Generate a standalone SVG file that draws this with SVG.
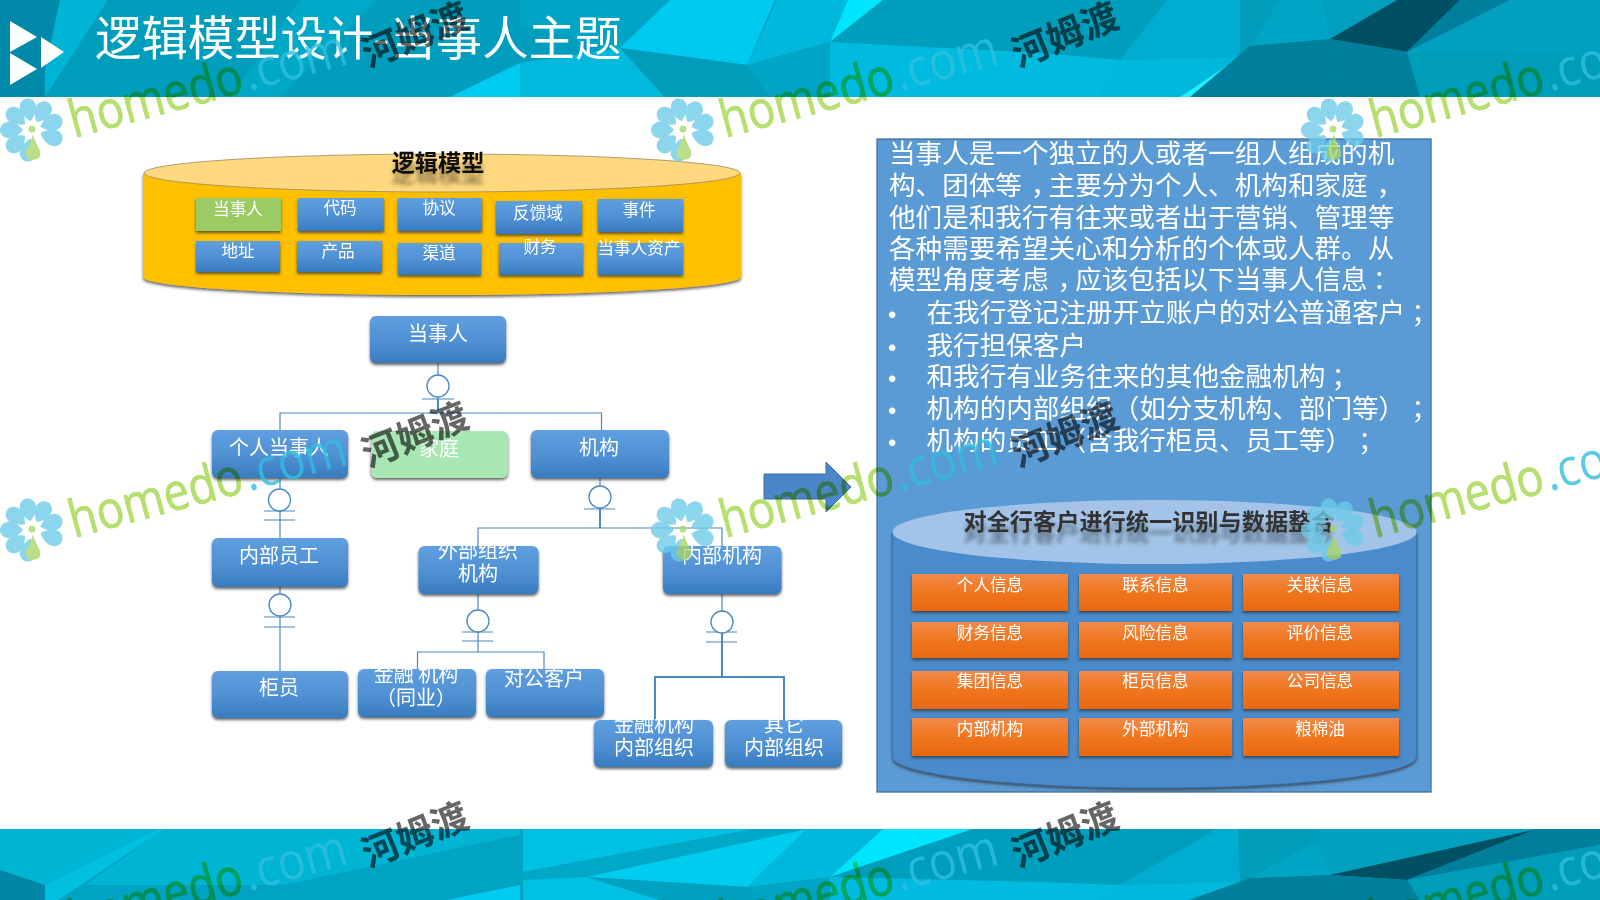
<svg xmlns="http://www.w3.org/2000/svg" xmlns:xlink="http://www.w3.org/1999/xlink" width="1600" height="900" viewBox="0 0 1600 900">
<style>
text{font-family:"Noto Sans CJK SC","Noto Sans",sans-serif;text-spacing-trim:space-all}
.b{fill:url(#gb);filter:url(#sh)}
.o{fill:url(#go);filter:url(#sh)}
.t{fill:#fff;text-anchor:middle}
.s{font-size:16.6px}
.m{font-size:20px}
.p{fill:#fff;font-size:26.6px}
.u{fill:#fff;font-size:24px;font-family:"Liberation Sans",sans-serif}
.l{fill:none;stroke:#4a88c0;stroke-width:1.2}
.k{stroke-width:2}
.er{fill:#fff;stroke:#4a88c0;stroke-width:1.3}
.h{fill:#b5df6e;stroke:#b5df6e;stroke-width:.8;font-family:"Open Sans",sans-serif;font-size:52px;font-weight:400;mix-blend-mode:multiply}
.d{fill:#30bede;fill-opacity:.8;font-family:"Open Sans",sans-serif;font-size:52px;font-weight:400}
.w{fill:#666;font-size:37px;font-weight:700;text-anchor:middle;mix-blend-mode:multiply}
.ct{font-size:23.2px;font-weight:700;text-anchor:middle;filter:url(#rf)}
</style>
<defs>
<linearGradient id="gb" x1="0" y1="0" x2="0" y2="1"><stop offset="0" stop-color="#5f9fe0"/><stop offset=".55" stop-color="#4f90d3"/><stop offset="1" stop-color="#387bbf"/></linearGradient>
<linearGradient id="go" x1="0" y1="0" x2="0" y2="1"><stop offset="0" stop-color="#f28a4a"/><stop offset=".5" stop-color="#f0761f"/><stop offset="1" stop-color="#e8680f"/></linearGradient>
<filter id="sh" x="-10%" y="-15%" width="120%" height="135%"><feDropShadow dx="0" dy="2" stdDeviation="1.4" flood-color="#333" flood-opacity=".75"/></filter>
<filter id="rf" x="-5%" y="-10%" width="110%" height="170%"><feOffset in="SourceAlpha" dy="11" result="o"/><feGaussianBlur in="o" stdDeviation="2"/><feComponentTransfer result="r"><feFuncA type="linear" slope=".4"/></feComponentTransfer><feMerge><feMergeNode in="r"/><feMergeNode in="SourceGraphic"/></feMerge></filter>
<path id="pt" d="M0-9C-6-14-9-20-8-25C-7-30-3-32 0-32C3-32 7-30 8-25C9-20 6-14 0-9Z" fill="#6ccbe9"/>
<g id="fl" opacity=".78">
<use xlink:href="#pt" href="#pt" transform="rotate(-170)"/><use xlink:href="#pt" href="#pt" transform="rotate(-130)"/><use xlink:href="#pt" href="#pt" transform="rotate(-90)"/><use xlink:href="#pt" href="#pt" transform="rotate(-50)"/><use xlink:href="#pt" href="#pt" transform="rotate(-10)"/><use xlink:href="#pt" href="#pt" transform="rotate(30)"/><use xlink:href="#pt" href="#pt" transform="rotate(70)"/><use xlink:href="#pt" href="#pt" transform="rotate(110)"/>
<path d="M0 4C2 14 9 20 7 26C5 31 -5 31 -7 26C-9 20-2 14 0 4Z" fill="#a8d568" transform="translate(1,0)"/><circle r="3.5" cy="-1" fill="#a8d568"/>
</g>
</defs>
<rect width="1600" height="900" fill="#fff"/>
<g id="top-band">
<rect width="1600" height="97" fill="#009dbc"/>
<path d="M0 0H108L45 97H0Z" fill="#0089a8"/>
<path d="M60 0H108L45 97V70Z" fill="#00b4d6"/>
<path d="M300 0H377L280 97H230Z" fill="#00a8c8"/>
<path d="M450 97L520 63V97Z" fill="#00cbf0"/>
<path d="M520 0H670L620 50L520 25Z" fill="#00a5c6"/>
<path d="M670 0H775L747 65L620 48Z" fill="#00c9f0"/>
<path d="M520 63L620 48L665 97H520Z" fill="#00b9dc"/>
<path d="M620 48L747 65L770 97H665Z" fill="#009cba"/>
<path d="M777 0H848L830 42L747 65Z" fill="#00b8dc"/>
<path d="M848 0H883L830 42Z" fill="#00e5ff"/>
<path d="M830 42L747 65L770 97H830Z" fill="#00a5c5"/>
<path d="M883 0H1167L1120 60L1040 53L830 42Z" fill="#009ebd"/>
<path d="M830 42L1040 53L1120 60L1100 97H830Z" fill="#00bbdf"/>
<path d="M1167 0H1240V57L1120 60Z" fill="#00add0"/>
<path d="M1120 60L1240 57L1187 97H1100Z" fill="#00b8dc"/>
<path d="M1240 57L1252 50L1190 97H1180Z" fill="#20f0ff"/>
<path d="M1240 0H1280L1250 46L1240 57Z" fill="#009dbb"/>
<path d="M1280 0H1322L1330 39L1250 46Z" fill="#00a5c6"/>
<path d="M1322 0H1397L1330 39Z" fill="#009fbd"/>
<path d="M1397 0H1460L1407 52L1330 39Z" fill="#004f62"/>
<path d="M1460 0H1510L1407 52Z" fill="#007f9c"/>
<path d="M1510 0H1600V55L1407 52Z" fill="#00a0be"/>
<path d="M1407 52L1600 55V97H1420Z" fill="#009dbb"/>
<path d="M1250 46L1330 39L1340 97H1190Z" fill="#007f9c"/>
<path d="M1330 39L1407 52L1420 97H1340Z" fill="#00809a"/>
</g>
<g id="bottom-band">
<rect y="829" width="1600" height="71" fill="#00a3c2"/>
<path d="M0 829H157L45 885L0 870Z" fill="#00b5d3"/>
<path d="M0 870L45 885V900H0Z" fill="#0087a5"/>
<path d="M157 829H165L58 900H45V885Z" fill="#00c0e0"/>
<path d="M165 829H520V835L283 885H85Z" fill="#00b4d3"/>
<path d="M447 900L520 885V900Z" fill="#00cbf0"/>
<path d="M523 829H753L523 872Z" fill="#00c0e4"/>
<path d="M753 829H807L587 877L523 880V872Z" fill="#00a8c8"/>
<path d="M807 829L747 887L587 877Z" fill="#00ccf0"/>
<path d="M523 880L587 877L660 900H523Z" fill="#00c0e4"/>
<path d="M587 877L747 887L770 900H660Z" fill="#00a0c0"/>
<path d="M807 829H883L830 877L747 887Z" fill="#00b8dc"/>
<path d="M883 829H973L830 877Z" fill="#00e5ff"/>
<path d="M973 829H1217L1120 885L1040 882L830 877Z" fill="#009ebd"/>
<path d="M747 887L830 877V900H770Z" fill="#00a5c5"/>
<path d="M830 877L1040 882L1120 885L1100 900H830Z" fill="#00bbdf"/>
<path d="M1217 829H1238L1240 882L1120 885Z" fill="#00add0"/>
<path d="M1120 885L1240 882L1187 900H1100Z" fill="#00b8dc"/>
<path d="M1238 829H1322L1317 841L1250 878L1240 882Z" fill="#009dbb"/>
<path d="M1317 841L1330 875L1250 878Z" fill="#00a5c6"/>
<path d="M1322 829H1537L1330 875L1317 841Z" fill="#00a0be"/>
<path d="M1537 829L1407 880L1330 875Z" fill="#004f62"/>
<path d="M1537 829H1600V845L1407 880Z" fill="#007f9c"/>
<path d="M1407 880L1600 845V900H1420Z" fill="#009dbb"/>
<path d="M1250 878L1330 875L1340 900H1190Z" fill="#007f9c"/>
<path d="M1330 875L1407 880L1420 900H1340Z" fill="#00809a"/>
</g>
<g id="title-icon" fill="#fff"><path d="M10 21L37 37L10 52Z"/><path d="M41 37L64 52L41 68Z"/><path d="M10 53L37 69L10 85Z"/></g>
<text id="title" x="95" y="55" font-size="46.4" fill="#fff">逻辑模型设计-当事人主题</text>

<g id="cyl-model">
<path d="M143 173V277A298 18 0 0 0 741 277V173Z" fill="#ffc000" filter="url(#sh)"/>
<ellipse cx="442" cy="173" rx="298" ry="19" fill="#ffd880" stroke="#9a8a60" stroke-width=".8"/>
<text class="ct" x="438" y="171" fill="#111">逻辑模型</text>
</g>
<g id="n-a1"><rect class="o" style="fill:#9bcb63" x="196" y="198" width="85" height="33"/><text class="t s" x="238" y="215">当事人</text></g>
<g id="n-a2"><rect class="b" x="298" y="198" width="86" height="33"/><text class="t s" x="340" y="214">代码</text></g>
<g id="n-a3"><rect class="b" x="398" y="198" width="84" height="33"/><text class="t s" x="439" y="214">协议</text></g>
<g id="n-a4"><rect class="b" x="496" y="201" width="86" height="33"/><text class="t s" x="538" y="219">反馈域</text></g>
<g id="n-a5"><rect class="b" x="598" y="199" width="85" height="33"/><text class="t s" x="639" y="216">事件</text></g>
<g id="n-b1"><rect class="b" x="196" y="241" width="84" height="31"/><text class="t s" x="238" y="257">地址</text></g>
<g id="n-b2"><rect class="b" x="297" y="241" width="85" height="31"/><text class="t s" x="338" y="257">产品</text></g>
<g id="n-b3"><rect class="b" x="398" y="243" width="83" height="32"/><text class="t s" x="439" y="259">渠道</text></g>
<g id="n-b4"><rect class="b" x="499" y="243" width="84" height="32"/><text class="t s" x="540" y="253">财务</text></g>
<g id="n-b5"><rect class="b" x="598" y="243" width="85" height="32"/><text class="t s" x="639" y="254">当事人资产</text></g>

<g id="connectors">
<path class="l" d="M438 363V413M280 430V413H601.500V430M280 478V538M280 587V671M600 478V528M478 546V528H722V546M478 594V652M417.500 669V652H544V669M722 594V677"/>
<path class="l k" d="M438 399V413M600 509V528M722 632V677M655 720V677H784V720"/>
<path class="l" d="M422 399H454M264 511H295M264 520H295M264 617H295M264 627H295M584 509H615M462 632H493M462 641H493M706 632H737M706 642H737"/>
<circle class="er" cx="438" cy="386" r="11"/><circle class="er" cx="279.500" cy="500" r="11"/><circle class="er" cx="280" cy="605" r="11"/><circle class="er" cx="600" cy="497" r="11"/><circle class="er" cx="478" cy="621" r="11"/><circle class="er" cx="722" cy="622" r="11"/>
</g>
<g id="n-party"><rect class="b" x="370" y="316" width="136" height="47" rx="6"/><text class="t m" x="438" y="341">当事人</text></g>
<g id="n-person"><rect class="b" x="212" y="430" width="136" height="48" rx="6"/><text class="t m" x="279" y="455">个人当事人</text></g>
<g id="n-family"><rect x="371" y="431" width="137" height="47" rx="6" fill="#a8e6b4" filter="url(#sh)"/><text class="t m" x="439" y="456">家庭</text></g>
<g id="n-org"><rect class="b" x="531" y="430" width="138" height="48" rx="6"/><text class="t m" x="599" y="455">机构</text></g>
<g id="n-staff"><rect class="b" x="212" y="538" width="136" height="49" rx="6"/><text class="t m" x="279" y="563">内部员工</text></g>
<g id="n-teller"><rect class="b" x="212" y="671" width="136" height="47" rx="6"/><text class="t m" x="279" y="695">柜员</text></g>
<g id="n-ext"><rect class="b" x="418.500" y="546" width="120" height="48" rx="6"/><text class="t m" x="478" y="558">外部组织</text><text class="t m" x="478" y="581">机构</text></g>
<g id="n-int"><rect class="b" x="663" y="546" width="118.500" height="48" rx="6"/><text class="t m" x="722" y="563">内部机构</text></g>
<g id="n-fin"><rect class="b" x="358" y="669" width="118" height="48" rx="6"/><text class="t m" x="416" y="682" xml:space="preserve">金融 机构</text><text class="t m" x="416" y="705">（同业）</text></g>
<g id="n-corp"><rect class="b" x="486" y="669" width="118" height="48" rx="6"/><text class="t m" x="544" y="686">对公客户</text></g>
<g id="n-finint"><rect class="b" x="594" y="720" width="119" height="47" rx="6"/><text class="t m" x="654" y="732">金融机构</text><text class="t m" x="654" y="755">内部组织</text></g>
<g id="n-other"><rect class="b" x="725" y="720" width="117" height="47" rx="6"/><text class="t m" x="784" y="732">其它</text><text class="t m" x="784" y="755">内部组织</text></g>

<g id="arrow"><path d="M764 474H826V462L851 487L826 512V499H764Z" fill="#4a86c8" stroke="#3a6ea5"/></g>

<g id="panel">
<rect x="877" y="139" width="554" height="653" fill="#5b9bd5" stroke="#41719c" stroke-width="1.300"/>
<text class="p" x="889" y="163">当事人是一个独立的人或者一组人组成的机</text>
<text class="p" x="889" y="195">构、团体等<tspan dx="9">，</tspan><tspan dx="-9">主要分为个人、机构和家庭</tspan><tspan dx="9">，</tspan></text>
<text class="p" x="889" y="227">他们是和我行有往来或者出于营销、管理等</text>
<text class="p" x="889" y="258">各种需要希望关心和分析的个体或人群。从</text>
<text class="p" x="889" y="289">模型角度考虑<tspan dx="9">，</tspan><tspan dx="-9">应该包括以下当事人信息</tspan><tspan dx="5">：</tspan></text>
<text class="u" x="888" y="323">•</text><text class="p" x="926.500" y="322">在我行登记注册开立账户的对公普通客户<tspan dx="6">；</tspan></text>
<text class="u" x="888" y="356">•</text><text class="p" x="926.500" y="355">我行担保客户</text>
<text class="u" x="888" y="387">•</text><text class="p" x="926.500" y="386">和我行有业务往来的其他金融机构<tspan dx="6">；</tspan></text>
<text class="u" x="888" y="419">•</text><text class="p" x="926.500" y="418">机构的内部组织（如分支机构、部门等）<tspan dx="6">；</tspan></text>
<text class="u" x="888" y="451">•</text><text class="p" x="926.500" y="450">机构的员工（含我行柜员、员工等）<tspan dx="6">；</tspan></text>
</g>
<g id="cyl-data">
<path d="M892.500 532V757A262 31 0 0 0 1416.500 757V532Z" fill="#4a8bcb" stroke="#3a6ea5" stroke-width=".8" filter="url(#sh)"/>
<ellipse cx="1154.500" cy="532" rx="262" ry="32" fill="#a3c4e8"/>
<text class="ct" x="1149" y="530" fill="#333">对全行客户进行统一识别与数据整合</text>
</g>
<g id="i1"><rect class="o" x="912" y="574" width="156" height="37"/><text class="t s" x="990" y="591">个人信息</text></g>
<g id="i2"><rect class="o" x="1079" y="574" width="153" height="37"/><text class="t s" x="1155.500" y="591">联系信息</text></g>
<g id="i3"><rect class="o" x="1243" y="574" width="156" height="37"/><text class="t s" x="1320" y="591">关联信息</text></g>
<g id="i4"><rect class="o" x="912" y="622" width="156" height="36"/><text class="t s" x="990" y="639">财务信息</text></g>
<g id="i5"><rect class="o" x="1079" y="622" width="153" height="36"/><text class="t s" x="1155.500" y="639">风险信息</text></g>
<g id="i6"><rect class="o" x="1243" y="622" width="156" height="36"/><text class="t s" x="1320" y="639">评价信息</text></g>
<g id="i7"><rect class="o" x="912" y="671" width="156" height="38"/><text class="t s" x="990" y="687">集团信息</text></g>
<g id="i8"><rect class="o" x="1079" y="671" width="153" height="38"/><text class="t s" x="1155.500" y="687">柜员信息</text></g>
<g id="i9"><rect class="o" x="1243" y="671" width="156" height="38"/><text class="t s" x="1320" y="687">公司信息</text></g>
<g id="i10"><rect class="o" x="912" y="718" width="156" height="38"/><text class="t s" x="990" y="735">内部机构</text></g>
<g id="i11"><rect class="o" x="1079" y="718" width="153" height="38"/><text class="t s" x="1155.500" y="735">外部机构</text></g>
<g id="i12"><rect class="o" x="1243" y="718" width="156" height="38"/><text class="t s" x="1320" y="735">粮棉油</text></g>

<g id="watermarks">
<use xlink:href="#fl" href="#fl" x="32" y="130"/><use xlink:href="#fl" href="#fl" x="683" y="130"/><use xlink:href="#fl" href="#fl" x="1333" y="130"/>
<use xlink:href="#fl" href="#fl" x="32" y="530"/><use xlink:href="#fl" href="#fl" x="683" y="530"/><use xlink:href="#fl" href="#fl" x="1333" y="530"/>
<g transform="translate(74,138) rotate(-15)"><text class="h" textLength="178" lengthAdjust="spacingAndGlyphs">homedo</text><text class="d" x="181" textLength="105" lengthAdjust="spacingAndGlyphs">.com</text></g>
<g transform="translate(725,138) rotate(-15)"><text class="h" textLength="178" lengthAdjust="spacingAndGlyphs">homedo</text><text class="d" x="181" textLength="105" lengthAdjust="spacingAndGlyphs">.com</text></g>
<g transform="translate(1375,138) rotate(-15)"><text class="h" textLength="178" lengthAdjust="spacingAndGlyphs">homedo</text><text class="d" x="181" textLength="105" lengthAdjust="spacingAndGlyphs">.com</text></g>
<g transform="translate(74,538) rotate(-15)"><text class="h" textLength="178" lengthAdjust="spacingAndGlyphs">homedo</text><text class="d" x="181" textLength="105" lengthAdjust="spacingAndGlyphs">.com</text></g>
<g transform="translate(725,538) rotate(-15)"><text class="h" textLength="178" lengthAdjust="spacingAndGlyphs">homedo</text><text class="d" x="181" textLength="105" lengthAdjust="spacingAndGlyphs">.com</text></g>
<g transform="translate(1375,538) rotate(-15)"><text class="h" textLength="178" lengthAdjust="spacingAndGlyphs">homedo</text><text class="d" x="181" textLength="105" lengthAdjust="spacingAndGlyphs">.com</text></g>
<g transform="translate(74,938) rotate(-15)"><text class="h" textLength="178" lengthAdjust="spacingAndGlyphs">homedo</text><text class="d" x="181" textLength="105" lengthAdjust="spacingAndGlyphs">.com</text></g>
<g transform="translate(725,938) rotate(-15)"><text class="h" textLength="178" lengthAdjust="spacingAndGlyphs">homedo</text><text class="d" x="181" textLength="105" lengthAdjust="spacingAndGlyphs">.com</text></g>
<g transform="translate(1375,938) rotate(-15)"><text class="h" textLength="178" lengthAdjust="spacingAndGlyphs">homedo</text><text class="d" x="181" textLength="105" lengthAdjust="spacingAndGlyphs">.com</text></g>
<text class="w" transform="translate(420,47) rotate(-22)">河姆渡</text>
<text class="w" transform="translate(1070,47) rotate(-22)">河姆渡</text>
<text class="w" transform="translate(420,447) rotate(-22)">河姆渡</text>
<text class="w" transform="translate(1070,447) rotate(-22)">河姆渡</text>
<text class="w" transform="translate(420,847) rotate(-22)">河姆渡</text>
<text class="w" transform="translate(1070,847) rotate(-22)">河姆渡</text>
</g>
</svg>
